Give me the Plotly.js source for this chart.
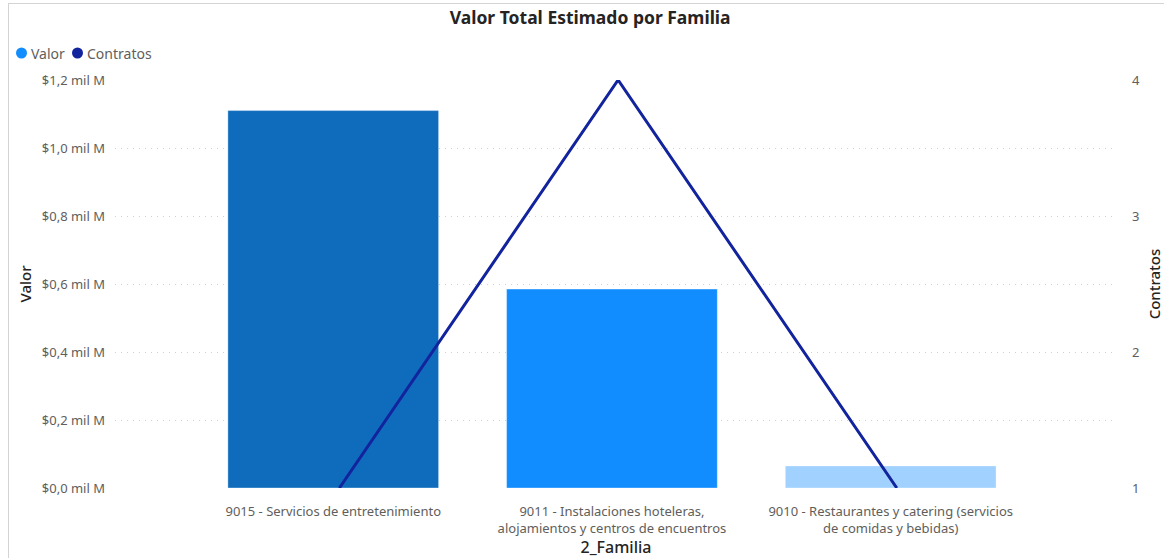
<!DOCTYPE html>
<html>
<head>
<meta charset="utf-8">
<script src="https://cdn.plot.ly/plotly-3.0.1.min.js"></script>
<style>
  html, body { margin: 0; padding: 0; background: #fff; }
  #wrap { position: relative; width: 1164px; height: 558px; }
  #chart { position: absolute; left: 0; top: 0; width: 1164px; height: 558px; }
  #frame { position: absolute; left: 8px; top: 3px; width: 1160px; height: 555px; border: 1px solid #d4d4d4; border-bottom: none; pointer-events: none; box-sizing: border-box; }
</style>
</head>
<body>
<div id="wrap"><div id="chart"></div><div id="frame"></div></div>
<script>
// ---- data ----
const categorias = [
  "9015 - Servicios de entretenimiento",
  "9011 - Instalaciones hoteleras,<br>alojamientos y centros de encuentros",
  "9010 - Restaurantes y catering (servicios<br>de comidas y bebidas)"
];
const valor = [1110000000, 585000000, 65000000];
const contratos = [1, 4, 1];
const coloresBarras = ["#0F6CBD", "#118DFF", "#A0D1FF"];
const valorTickVals = [0, 200000000, 400000000, 600000000, 800000000, 1000000000, 1200000000];
const valorTickText = ["$0,0 mil M", "$0,2 mil M", "$0,4 mil M", "$0,6 mil M", "$0,8 mil M", "$1,0 mil M", "$1,2 mil M"];
const contratosTickVals = [1, 2, 3, 4];
const contratosTickText = ["1", "2", "3", "4"];
const leyenda = ["Valor", "Contratos"];
const coloresLeyenda = ["#118DFF", "#12239E"];

const FONT = "Segoe UI, Noto Sans, Open Sans, sans-serif";

const traces = [
  {
    type: "bar", name: "Valor", x: categorias, y: valor,
    marker: { color: coloresBarras, line: { width: 1, color: "rgba(255,255,255,0.35)" } },
    width: 0.756, showlegend: false, hoverinfo: "x+y"
  },
  {
    type: "scatter", mode: "lines", name: "Contratos", x: categorias, y: contratos,
    xaxis: "x2", yaxis: "y2",
    line: { color: "#12239E", width: 3 }, showlegend: false
  }
];

// legend drawn as shapes + annotations (pixel -> paper conversion)
const L = 115, T = 80, W = 1002, H = 408;
const px = v => (v - L) / W;
const py = v => (T + H - v) / H;
const legendItems = [
  { cx: 21.5, tx: 29 },
  { cx: 77.5, tx: 85 }
];
const legendY = 53;
const shapes = legendItems.map((it, i) => ({
  type: "circle", xref: "paper", yref: "paper",
  x0: px(it.cx - 5.5), x1: px(it.cx + 5.5), y0: py(legendY + 5.5), y1: py(legendY - 5.5),
  fillcolor: coloresLeyenda[i], line: { width: 0 }
}));
const legendAnn = legendItems.map((it, i) => ({
  xref: "paper", yref: "paper", x: px(it.tx), y: py(legendY), xanchor: "left", yanchor: "middle",
  showarrow: false, text: leyenda[i],
  font: { family: FONT, size: 14, color: "#605E5C" }
}));

const layout = {
  width: 1164, height: 558,
  margin: { l: L, r: 47, t: T, b: 70 },
  paper_bgcolor: "#fff", plot_bgcolor: "#fff",
  showlegend: false,
  title: {
    text: "Valor Total Estimado por Familia",
    font: { family: FONT, size: 17.5, color: "#252423", weight: "bold" },
    xref: "container", x: 0.507, xanchor: "center",
    yref: "container", y: 1 - 18 / 558, yanchor: "middle"
  },
  xaxis: {
    type: "category", range: [-0.783, 2.812],
    showgrid: false, zeroline: false, showline: false, ticks: "",
    tickfont: { family: FONT, size: 13, color: "#605E5C" },
    ticklabelstandoff: 14,
    title: { text: "2_Familia", font: { family: FONT, size: 16, color: "#252423", weight: 500 }, standoff: 0 },
    automargin: false
  },
  xaxis2: {
    type: "category", overlaying: "x", range: [-0.805, 2.79],
    visible: false, showgrid: false, zeroline: false
  },
  yaxis: {
    range: [0, 1200000000],
    tickvals: valorTickVals, ticktext: valorTickText,
    showgrid: true, gridcolor: "#d0d0d0", griddash: "1px,5px", gridwidth: 1,
    zeroline: false, showline: false, ticks: "",
    tickfont: { family: FONT, size: 13, color: "#605E5C" },
    ticklabelstandoff: 9,
    title: { text: "Valor", font: { family: FONT, size: 15, color: "#252423", weight: 500 }, standoff: 6 },
    automargin: false
  },
  yaxis2: {
    overlaying: "y", side: "right", range: [1, 4],
    tickvals: contratosTickVals, ticktext: contratosTickText,
    showgrid: false, zeroline: false, showline: false, ticks: "",
    tickfont: { family: FONT, size: 13, color: "#605E5C" },
    ticklabelstandoff: 14,
    title: { text: "Contratos", font: { family: FONT, size: 15, color: "#252423", weight: 500 }, standoff: 16 },
    automargin: false
  },
  shapes: shapes,
  annotations: legendAnn
};

Plotly.newPlot("chart", traces, layout, { displayModeBar: false, staticPlot: true });
</script>
</body>
</html>
